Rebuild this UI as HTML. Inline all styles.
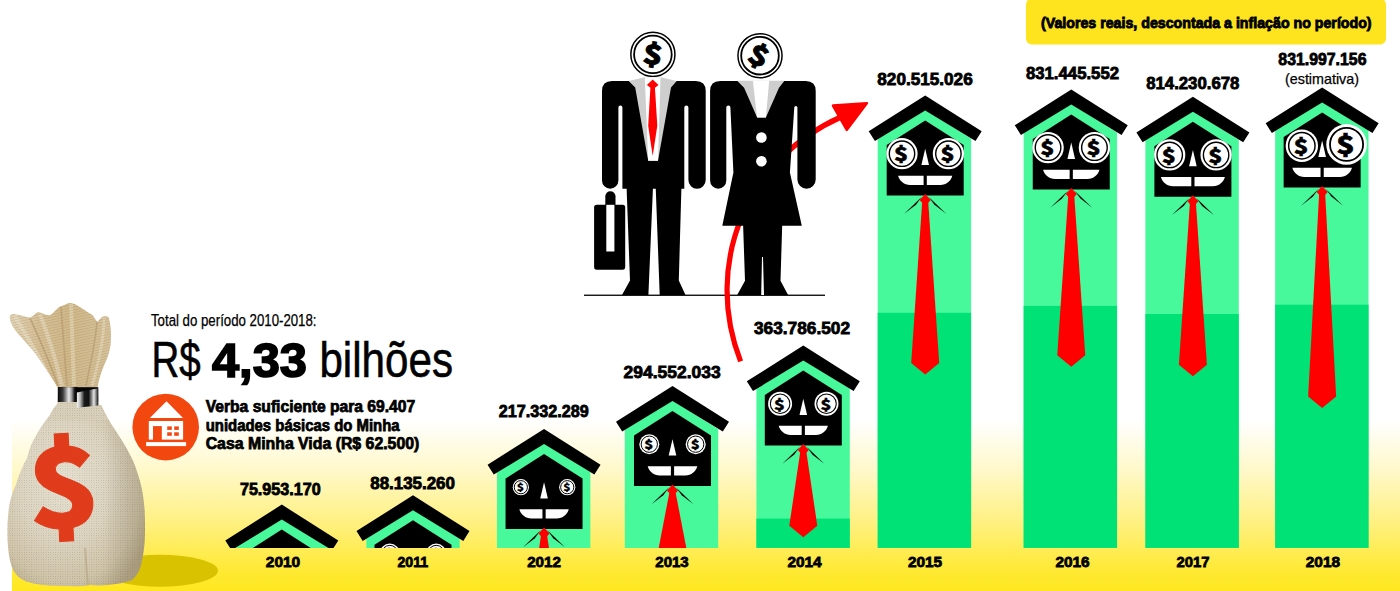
<!DOCTYPE html>
<html><head><meta charset="utf-8"><title>Minha Casa Minha Vida</title>
<style>
html,body{margin:0;padding:0;background:#fff;}
body{width:1400px;height:591px;overflow:hidden;}
svg{display:block;}
.num,.yr{font-family:"Liberation Sans",sans-serif;font-weight:bold;font-size:16.5px;fill:#000;stroke:#000;stroke-width:0.8px;}
.yr{font-size:15.2px;}
.bd{font-family:"Liberation Sans",sans-serif;font-weight:bold;}
.dl{font-family:"Noto Sans CJK JP","Liberation Sans",sans-serif;font-weight:900;fill:#000;}
.reg{font-family:"Liberation Sans",sans-serif;font-weight:normal;fill:#000;}
</style></head><body>
<svg width="1400" height="591" viewBox="0 0 1400 591">
<defs>
<linearGradient id="yel" x1="0" y1="0" x2="0" y2="1">
<stop offset="0" stop-color="#FFFFFF"/>
<stop offset="0.3" stop-color="#FFF8C8"/>
<stop offset="0.62" stop-color="#FFF07C"/>
<stop offset="0.88" stop-color="#FFE934"/>
<stop offset="1" stop-color="#FFE81F"/>
</linearGradient>
<clipPath id="cb"><rect x="0" y="0" width="1400" height="547.9"/></clipPath>

<radialGradient id="bagg" cx="0.42" cy="0.42" r="0.68">
<stop offset="0" stop-color="#EAE5D6"/>
<stop offset="0.5" stop-color="#E0D8C4"/>
<stop offset="0.82" stop-color="#D2C7AB"/>
<stop offset="1" stop-color="#BCAE8E"/>
</radialGradient>
<linearGradient id="rufg" x1="0" y1="0" x2="1" y2="0">
<stop offset="0" stop-color="#E4D8BC"/>
<stop offset="0.3" stop-color="#D9C39A"/>
<stop offset="0.6" stop-color="#D3BC8E"/>
<stop offset="1" stop-color="#D9C6A0"/>
</linearGradient>
<linearGradient id="band" x1="0" y1="0" x2="1" y2="0">
<stop offset="0" stop-color="#111"/>
<stop offset="0.25" stop-color="#444"/>
<stop offset="0.5" stop-color="#F2F2F2"/>
<stop offset="0.75" stop-color="#555"/>
<stop offset="1" stop-color="#0A0A0A"/>
</linearGradient>
<linearGradient id="band1" x1="0" y1="0" x2="1" y2="0">
<stop offset="0" stop-color="#0A0A0A"/>
<stop offset="0.25" stop-color="#3A3A3A"/>
<stop offset="0.55" stop-color="#E8E8E8"/>
<stop offset="0.7" stop-color="#9A9A9A"/>
<stop offset="0.85" stop-color="#111"/>
<stop offset="1" stop-color="#000"/>
</linearGradient>
<linearGradient id="band2" x1="0" y1="0" x2="1" y2="0">
<stop offset="0" stop-color="#F4F4F4"/>
<stop offset="0.15" stop-color="#BDBDBD"/>
<stop offset="0.35" stop-color="#1A1A1A"/>
<stop offset="0.55" stop-color="#111"/>
<stop offset="0.8" stop-color="#E6E6E6"/>
<stop offset="1" stop-color="#1A1A1A"/>
</linearGradient>
<pattern id="knit" width="2.4" height="2.4" patternUnits="userSpaceOnUse">
<rect x="0" y="0" width="0.9" height="0.9" fill="#4E4A48" opacity="0.28"/>
<rect x="1.2" y="1.2" width="0.9" height="0.9" fill="#9A7A4C" opacity="0.18"/>
</pattern>
<pattern id="wav" width="4" height="2.6" patternUnits="userSpaceOnUse" patternTransform="rotate(-12)">
<path d="M0,1.3 Q1,0.3 2,1.3 T4,1.3" fill="none" stroke="#8E6E3E" stroke-width="0.7" opacity="0.45"/>
</pattern>
<linearGradient id="bshade" x1="0" y1="0" x2="1" y2="0">
<stop offset="0" stop-color="#000" stop-opacity="0"/>
<stop offset="0.7" stop-color="#000" stop-opacity="0"/>
<stop offset="1" stop-color="#5A4A2A" stop-opacity="0.18"/>
</linearGradient>

</defs>
<rect width="1400" height="591" fill="#fff"/>
<rect x="12" y="420" width="1388" height="171" fill="url(#yel)"/>

<rect x="584" y="294.6" width="241" height="1.3" fill="#000"/>
<path d="M740.6,361.4 C702.9,264.5 746.3,159.0 841,117" fill="none" stroke="#F00" stroke-width="5.2"/>
<polygon points="833,105.6 866.8,103.2 846.8,129.8" fill="#F00" stroke="#F00" stroke-width="2.6" stroke-linejoin="round"/>
<circle cx="652.9" cy="54.4" r="22.8" fill="#fff"/>
<circle cx="652.9" cy="54.4" r="22.05" fill="none" stroke="#000" stroke-width="1.5"/>
<circle cx="652.9" cy="54.4" r="18.8" fill="none" stroke="#000" stroke-width="1.8"/>
<text x="0" y="9.80" class="dl" font-size="26.5" text-anchor="middle" stroke="#000" stroke-width="0.9" transform="translate(652.9,54.4) rotate(8) scale(1.2,1)">$</text>
<path d="M602,91 Q602,81 612,81 L695.7,81 Q705.7,81 705.7,91 L705.7,180.1 A8.65,8.65 0 0 1 688.4,180.1 L688.4,107.5 A2.05,2.05 0 0 0 684.3,107.5 L684.3,188.8 L622.4,188.8 L622.4,107.5 A2,2 0 0 0 618.4,107.5 L618.4,180.5 A8.2,8.2 0 0 1 602,180.5 Z" fill="#000"/>
<polygon points="624,187 653,187 648.4,295 622,295 630,280.5 626.6,188" fill="#000"/>
<polygon points="655.7,187 683,187 681.4,188 678.8,280.5 685.5,295 659.7,295" fill="#000"/>
<polygon points="628.7,81.1 644.6,77.3 660.8,77.3 676.7,81.1 671,87.6 658,160.7 648.2,160.7 635.2,87.6" fill="#CECECE"/>
<polygon points="644.8,77.3 660.5,77.3 658,160.7 648.2,160.7" fill="#fff"/>
<polygon points="650.4,87.5 654.9,87.5 657.3,125.7 652.7,156.1 648.2,125.7" fill="#F00"/>
<polygon points="652.7,79.6 658.5,84.9 652.7,89.6 646.9,84.9" fill="#F00"/>
<rect x="605.3" y="191.2" width="10.2" height="20" rx="5.1" fill="#000"/>
<rect x="594.1" y="204.8" width="31.1" height="64.9" rx="2.6" fill="#000"/>
<rect x="606.3" y="204.8" width="8.1" height="46.7" fill="#fff"/>
<circle cx="760.0" cy="55.7" r="22.8" fill="#fff"/>
<circle cx="760.0" cy="55.7" r="22.05" fill="none" stroke="#000" stroke-width="1.5"/>
<circle cx="760.0" cy="55.7" r="18.8" fill="none" stroke="#000" stroke-width="1.8"/>
<text x="0" y="9.80" class="dl" font-size="26.5" text-anchor="middle" stroke="#000" stroke-width="0.9" transform="translate(758.8,55.7) rotate(25) scale(1.2,1)">$</text>
<path d="M710.1,91 Q710.1,81 720.1,81 L805.7,81 Q815.7,81 815.7,91 L815.7,179.6 A9.15,9.15 0 0 1 797.4,179.6 L797.4,107.5 A1.55,1.55 0 0 0 794.3,107.5 L789.9,172.5 L801.8,225.8 L722.3,225.8 L733.4,172.5 L730.4,107.5 A2.05,2.05 0 0 0 726.3,107.5 L726.3,180.6 A8.1,8.1 0 0 1 710.1,180.6 Z" fill="#000"/>
<polygon points="743.1,225 782.2,225 780.5,280.7 788.1,295 737.2,295 745,280.7" fill="#000"/>
<polygon points="762,257 763,257 764,295 761.2,295" fill="#fff"/>
<polygon points="737.1,80.7 784.5,80.7 779,87.7 765.9,117.4 757.1,117.4 744.1,87.7" fill="#CECECE"/>
<polygon points="752.9,80.7 769.2,80.7 765.9,117.4 757.1,117.4" fill="#fff"/>
<circle cx="761.4" cy="137.5" r="5.3" fill="#fff"/><circle cx="761.4" cy="161.3" r="5.3" fill="#fff"/>
<g clip-path="url(#cb)">
<g transform="translate(281.8,504.6)">
<polygon points="0,14 -46.7,43 -46.7,43.299999999999955 46.7,43.299999999999955 46.7,43" fill="#47F99B"/>
<polygon points="0,25 -38.5,49.5 -38.5,100 38.5,100 38.5,49.5" fill="#000"/>
<polygon points="0,53.2 -3.8,69.6 3.8,69.6" fill="#fff"/>
<path d="M-24.7,80.3 L24.7,80.3 C23.2,85.5 18.7,89.5 12.7,89.5 L-12.7,89.5 C-18.7,89.5 -23.2,85.5 -24.7,80.3 Z" fill="#fff"/>
<rect x="-1.6" y="79" width="3.2" height="12" fill="#000"/>
<circle cx="-23.2" cy="58.2" r="10.00" fill="#fff"/>
<circle cx="-23.2" cy="58.2" r="8.15" fill="none" stroke="#000" stroke-width="1.00"/>
<text x="0" y="4.44" font-size="12.0" class="dl" text-anchor="middle" stroke="#000" stroke-width="0.30" transform="translate(-23.70,58.70) scale(1.25,1)">$</text>
<circle cx="23.2" cy="58.2" r="10.00" fill="#fff"/>
<circle cx="23.2" cy="58.2" r="8.15" fill="none" stroke="#000" stroke-width="1.00"/>
<text x="0" y="4.44" font-size="12.0" class="dl" text-anchor="middle" stroke="#000" stroke-width="0.30" transform="translate(22.70,58.70) scale(1.25,1)">$</text>
<polygon points="-3.6,101.5 -21,118.3 -9.2,109.2" fill="#000"/>
<polygon points="3.6,101.5 21,118.3 9.2,109.2" fill="#000"/>
<polygon points="-3,106 3,106 14,170 0,181.5 -14,170" fill="#FF0000"/>
<polygon points="0,98.6 -5.6,104.5 0,110.5 5.6,104.5" fill="#FF0000"/>
<polygon points="0,0 -56.5,35.8 -50.3,45.6 0,15 50.3,45.6 56.5,35.8" fill="#000"/>
</g>
<g transform="translate(413.0,495.3)">
<polygon points="0,14 -46.7,43 -46.7,52.599999999999966 46.7,52.599999999999966 46.7,43" fill="#47F99B"/>
<polygon points="0,25 -38.5,49.5 -38.5,100 38.5,100 38.5,49.5" fill="#000"/>
<polygon points="0,53.2 -3.8,69.6 3.8,69.6" fill="#fff"/>
<path d="M-24.7,80.3 L24.7,80.3 C23.2,85.5 18.7,89.5 12.7,89.5 L-12.7,89.5 C-18.7,89.5 -23.2,85.5 -24.7,80.3 Z" fill="#fff"/>
<rect x="-1.6" y="79" width="3.2" height="12" fill="#000"/>
<circle cx="-23.2" cy="58.2" r="10.00" fill="#fff"/>
<circle cx="-23.2" cy="58.2" r="8.15" fill="none" stroke="#000" stroke-width="1.00"/>
<text x="0" y="4.44" font-size="12.0" class="dl" text-anchor="middle" stroke="#000" stroke-width="0.30" transform="translate(-23.70,58.70) scale(1.25,1)">$</text>
<circle cx="23.2" cy="58.2" r="10.00" fill="#fff"/>
<circle cx="23.2" cy="58.2" r="8.15" fill="none" stroke="#000" stroke-width="1.00"/>
<text x="0" y="4.44" font-size="12.0" class="dl" text-anchor="middle" stroke="#000" stroke-width="0.30" transform="translate(22.70,58.70) scale(1.25,1)">$</text>
<polygon points="-3.6,101.5 -21,118.3 -9.2,109.2" fill="#000"/>
<polygon points="3.6,101.5 21,118.3 9.2,109.2" fill="#000"/>
<polygon points="-3,106 3,106 14,170 0,181.5 -14,170" fill="#FF0000"/>
<polygon points="0,98.6 -5.6,104.5 0,110.5 5.6,104.5" fill="#FF0000"/>
<polygon points="0,0 -56.5,35.8 -50.3,45.6 0,15 50.3,45.6 56.5,35.8" fill="#000"/>
</g>
<g transform="translate(544.05,429.0)">
<polygon points="-0.4,14 -47.1,43 -47.1,118.89999999999998 46.300000000000004,118.89999999999998 46.300000000000004,43" fill="#47F99B"/>
<polygon points="0,25 -38.5,49.5 -38.5,100 38.5,100 38.5,49.5" fill="#000"/>
<polygon points="0,53.2 -3.8,69.6 3.8,69.6" fill="#fff"/>
<path d="M-24.7,80.3 L24.7,80.3 C23.2,85.5 18.7,89.5 12.7,89.5 L-12.7,89.5 C-18.7,89.5 -23.2,85.5 -24.7,80.3 Z" fill="#fff"/>
<rect x="-1.6" y="79" width="3.2" height="12" fill="#000"/>
<circle cx="-23.2" cy="58.2" r="8.10" fill="#fff"/>
<circle cx="-23.2" cy="58.2" r="6.60" fill="none" stroke="#000" stroke-width="1.00"/>
<text x="0" y="3.60" font-size="9.7" class="dl" text-anchor="middle" stroke="#000" stroke-width="0.24" transform="translate(-23.61,58.61) scale(1.25,1)">$</text>
<circle cx="23.2" cy="58.2" r="8.10" fill="#fff"/>
<circle cx="23.2" cy="58.2" r="6.60" fill="none" stroke="#000" stroke-width="1.00"/>
<text x="0" y="3.60" font-size="9.7" class="dl" text-anchor="middle" stroke="#000" stroke-width="0.24" transform="translate(22.79,58.61) scale(1.25,1)">$</text>
<polygon points="-3.6,101.5 -21,118.3 -9.2,109.2" fill="#000"/>
<polygon points="3.6,101.5 21,118.3 9.2,109.2" fill="#000"/>
<polygon points="-3,106 3,106 14,181 0,192.5 -14,181" fill="#FF0000"/>
<polygon points="0,98.6 -5.6,104.5 0,110.5 5.6,104.5" fill="#FF0000"/>
<polygon points="0,0 -56.5,35.8 -50.3,45.6 0,15 50.3,45.6 56.5,35.8" fill="#000"/>
</g>
<g transform="translate(672.5,386.0)">
<polygon points="-1.0,14 -47.7,43 -47.7,161.89999999999998 45.7,161.89999999999998 45.7,43" fill="#47F99B"/>
<polygon points="0,25 -38.5,49.5 -38.5,100 38.5,100 38.5,49.5" fill="#000"/>
<polygon points="0,53.2 -3.8,69.6 3.8,69.6" fill="#fff"/>
<path d="M-24.8,80.3 L24.8,80.3 C23.3,85.5 18.8,89.5 12.8,89.5 L-12.8,89.5 C-18.8,89.5 -23.3,85.5 -24.8,80.3 Z" fill="#fff"/>
<rect x="-1.6" y="79" width="3.2" height="12" fill="#000"/>
<circle cx="-23.2" cy="58.2" r="10.00" fill="#fff"/>
<circle cx="-23.2" cy="58.2" r="8.15" fill="none" stroke="#000" stroke-width="1.00"/>
<text x="0" y="4.44" font-size="12.0" class="dl" text-anchor="middle" stroke="#000" stroke-width="0.30" transform="translate(-23.70,58.70) scale(1.25,1)">$</text>
<circle cx="23.2" cy="58.2" r="10.00" fill="#fff"/>
<circle cx="23.2" cy="58.2" r="8.15" fill="none" stroke="#000" stroke-width="1.00"/>
<text x="0" y="4.44" font-size="12.0" class="dl" text-anchor="middle" stroke="#000" stroke-width="0.30" transform="translate(22.70,58.70) scale(1.25,1)">$</text>
<polygon points="-3.6,101.5 -21,118.3 -9.2,109.2" fill="#000"/>
<polygon points="3.6,101.5 21,118.3 9.2,109.2" fill="#000"/>
<polygon points="-3,106 3,106 14,163 0,174.5 -14,163" fill="#FF0000"/>
<polygon points="0,98.6 -5.6,104.5 0,110.5 5.6,104.5" fill="#FF0000"/>
<polygon points="0,0 -56.5,35.8 -50.3,45.6 0,15 50.3,45.6 56.5,35.8" fill="#000"/>
</g>
<g transform="translate(803.3000000000001,345.5)">
<polygon points="-0.2,14 -46.900000000000006,43 -46.900000000000006,202.39999999999998 46.5,202.39999999999998 46.5,43" fill="#47F99B"/>
<rect x="-46.900000000000006" y="173.1" width="93.4" height="29.3" fill="#00E176"/>
<polygon points="0,25 -38.5,49.5 -38.5,100 38.5,100 38.5,49.5" fill="#000"/>
<polygon points="0,53.2 -3.8,69.6 3.8,69.6" fill="#fff"/>
<path d="M-24.6,80.3 L24.6,80.3 C23.1,85.5 18.6,89.5 12.600000000000001,89.5 L-12.600000000000001,89.5 C-18.6,89.5 -23.1,85.5 -24.6,80.3 Z" fill="#fff"/>
<rect x="-1.6" y="79" width="3.2" height="12" fill="#000"/>
<circle cx="-23.2" cy="58.2" r="12.00" fill="#fff"/>
<circle cx="-23.2" cy="58.2" r="9.78" fill="none" stroke="#000" stroke-width="1.08"/>
<text x="0" y="5.33" font-size="14.4" class="dl" text-anchor="middle" stroke="#000" stroke-width="0.36" transform="translate(-23.80,58.80) scale(1.25,1)">$</text>
<circle cx="23.2" cy="58.2" r="12.00" fill="#fff"/>
<circle cx="23.2" cy="58.2" r="9.78" fill="none" stroke="#000" stroke-width="1.08"/>
<text x="0" y="5.33" font-size="14.4" class="dl" text-anchor="middle" stroke="#000" stroke-width="0.36" transform="translate(22.60,58.80) scale(1.25,1)">$</text>
<polygon points="-3.6,101.5 -21,118.3 -9.2,109.2" fill="#000"/>
<polygon points="3.6,101.5 21,118.3 9.2,109.2" fill="#000"/>
<polygon points="-3,106 3,106 14,180.3 0,191.8 -14,180.3" fill="#FF0000"/>
<polygon points="0,98.6 -5.6,104.5 0,110.5 5.6,104.5" fill="#FF0000"/>
<polygon points="0,0 -56.5,35.8 -50.3,45.6 0,15 50.3,45.6 56.5,35.8" fill="#000"/>
</g>
<g transform="translate(925.1999999999999,95.5)">
<polygon points="-0.8,14 -47.5,43 -47.5,452.4 45.900000000000006,452.4 45.900000000000006,43" fill="#47F99B"/>
<rect x="-47.5" y="217.3" width="93.4" height="235.1" fill="#00E176"/>
<polygon points="0,25 -38.5,49.5 -38.5,100 38.5,100 38.5,49.5" fill="#000"/>
<polygon points="0,53.2 -3.8,69.6 3.8,69.6" fill="#fff"/>
<path d="M-27.1,80.3 L27.1,80.3 C25.6,85.5 21.1,89.5 15.100000000000001,89.5 L-15.100000000000001,89.5 C-21.1,89.5 -25.6,85.5 -27.1,80.3 Z" fill="#fff"/>
<rect x="-1.6" y="79" width="3.2" height="12" fill="#000"/>
<circle cx="-23.2" cy="58.2" r="15.60" fill="#fff"/>
<circle cx="-23.2" cy="58.2" r="12.71" fill="none" stroke="#000" stroke-width="1.40"/>
<text x="0" y="6.93" font-size="18.7" class="dl" text-anchor="middle" stroke="#000" stroke-width="0.47" transform="translate(-23.98,58.98) scale(1.25,1)">$</text>
<circle cx="23.2" cy="58.2" r="15.60" fill="#fff"/>
<circle cx="23.2" cy="58.2" r="12.71" fill="none" stroke="#000" stroke-width="1.40"/>
<text x="0" y="6.93" font-size="18.7" class="dl" text-anchor="middle" stroke="#000" stroke-width="0.47" transform="translate(22.42,58.98) scale(1.25,1)">$</text>
<polygon points="-3.6,101.5 -21,118.3 -9.2,109.2" fill="#000"/>
<polygon points="3.6,101.5 21,118.3 9.2,109.2" fill="#000"/>
<polygon points="-3,106 3,106 14,267.5 0,279.0 -14,267.5" fill="#FF0000"/>
<polygon points="0,98.6 -5.6,104.5 0,110.5 5.6,104.5" fill="#FF0000"/>
<polygon points="0,0 -56.5,35.8 -50.3,45.6 0,15 50.3,45.6 56.5,35.8" fill="#000"/>
</g>
<g transform="translate(1071.25,89.4)">
<polygon points="-0.9,14 -47.6,43 -47.6,458.5 45.800000000000004,458.5 45.800000000000004,43" fill="#47F99B"/>
<rect x="-47.6" y="216.5" width="93.4" height="242.0" fill="#00E176"/>
<polygon points="0,25 -38.5,49.5 -38.5,100 38.5,100 38.5,49.5" fill="#000"/>
<polygon points="0,53.2 -3.8,69.6 3.8,69.6" fill="#fff"/>
<path d="M-28.2,80.3 L28.2,80.3 C26.7,85.5 22.2,89.5 16.2,89.5 L-16.2,89.5 C-22.2,89.5 -26.7,85.5 -28.2,80.3 Z" fill="#fff"/>
<rect x="-1.6" y="79" width="3.2" height="12" fill="#000"/>
<circle cx="-23.2" cy="58.2" r="15.70" fill="#fff"/>
<circle cx="-23.2" cy="58.2" r="12.80" fill="none" stroke="#000" stroke-width="1.41"/>
<text x="0" y="6.97" font-size="18.8" class="dl" text-anchor="middle" stroke="#000" stroke-width="0.47" transform="translate(-23.98,58.98) scale(1.25,1)">$</text>
<circle cx="23.2" cy="58.2" r="15.70" fill="#fff"/>
<circle cx="23.2" cy="58.2" r="12.80" fill="none" stroke="#000" stroke-width="1.41"/>
<text x="0" y="6.97" font-size="18.8" class="dl" text-anchor="middle" stroke="#000" stroke-width="0.47" transform="translate(22.41,58.98) scale(1.25,1)">$</text>
<polygon points="-3.6,101.5 -21,118.3 -9.2,109.2" fill="#000"/>
<polygon points="3.6,101.5 21,118.3 9.2,109.2" fill="#000"/>
<polygon points="-3,106 3,106 14,265.8 0,277.3 -14,265.8" fill="#FF0000"/>
<polygon points="0,98.6 -5.6,104.5 0,110.5 5.6,104.5" fill="#FF0000"/>
<polygon points="0,0 -56.5,35.8 -50.3,45.6 0,15 50.3,45.6 56.5,35.8" fill="#000"/>
</g>
<g transform="translate(1192.8999999999999,96.7)">
<polygon points="-0.8,14 -47.5,43 -47.5,451.2 45.900000000000006,451.2 45.900000000000006,43" fill="#47F99B"/>
<rect x="-47.5" y="217.3" width="93.4" height="233.9" fill="#00E176"/>
<polygon points="0,25 -38.5,49.5 -38.5,100 38.5,100 38.5,49.5" fill="#000"/>
<polygon points="0,53.2 -3.8,69.6 3.8,69.6" fill="#fff"/>
<path d="M-32,80.3 L32,80.3 C30.5,85.5 26,89.5 20,89.5 L-20,89.5 C-26,89.5 -30.5,85.5 -32,80.3 Z" fill="#fff"/>
<rect x="-1.6" y="79" width="3.2" height="12" fill="#000"/>
<circle cx="-23.2" cy="58.2" r="15.60" fill="#fff"/>
<circle cx="-23.2" cy="58.2" r="12.71" fill="none" stroke="#000" stroke-width="1.40"/>
<text x="0" y="6.93" font-size="18.7" class="dl" text-anchor="middle" stroke="#000" stroke-width="0.47" transform="translate(-23.98,58.98) scale(1.25,1)">$</text>
<circle cx="23.2" cy="58.2" r="15.60" fill="#fff"/>
<circle cx="23.2" cy="58.2" r="12.71" fill="none" stroke="#000" stroke-width="1.40"/>
<text x="0" y="6.93" font-size="18.7" class="dl" text-anchor="middle" stroke="#000" stroke-width="0.47" transform="translate(22.42,58.98) scale(1.25,1)">$</text>
<polygon points="-3.6,101.5 -21,118.3 -9.2,109.2" fill="#000"/>
<polygon points="3.6,101.5 21,118.3 9.2,109.2" fill="#000"/>
<polygon points="-3,106 3,106 14,268 0,279.5 -14,268" fill="#FF0000"/>
<polygon points="0,98.6 -5.6,104.5 0,110.5 5.6,104.5" fill="#FF0000"/>
<polygon points="0,0 -56.5,35.8 -50.3,45.6 0,15 50.3,45.6 56.5,35.8" fill="#000"/>
</g>
<g transform="translate(1322.1499999999999,87.4)">
<polygon points="-0.3,14 -47.0,43 -47.0,460.5 46.400000000000006,460.5 46.400000000000006,43" fill="#47F99B"/>
<rect x="-47.0" y="217.3" width="93.4" height="243.2" fill="#00E176"/>
<polygon points="0,25 -38.5,49.5 -38.5,100 38.5,100 38.5,49.5" fill="#000"/>
<polygon points="0,53.2 -3.8,69.6 3.8,69.6" fill="#fff"/>
<path d="M-29.8,80.3 L29.8,80.3 C28.3,85.5 23.8,89.5 17.8,89.5 L-17.8,89.5 C-23.8,89.5 -28.3,85.5 -29.8,80.3 Z" fill="#fff"/>
<rect x="-1.6" y="79" width="3.2" height="12" fill="#000"/>
<circle cx="-20.3" cy="58.3" r="16.20" fill="#fff"/>
<circle cx="-20.3" cy="58.3" r="13.20" fill="none" stroke="#000" stroke-width="1.46"/>
<text x="0" y="7.19" font-size="19.4" class="dl" text-anchor="middle" stroke="#000" stroke-width="0.49" transform="translate(-21.11,59.11) scale(1.25,1)">$</text>
<circle cx="24.4" cy="57.0" r="20.30" fill="#fff"/>
<circle cx="24.4" cy="57.0" r="16.54" fill="none" stroke="#000" stroke-width="1.83"/>
<text x="0" y="9.01" font-size="24.4" class="dl" text-anchor="middle" stroke="#000" stroke-width="0.61" transform="translate(23.38,58.02) scale(1.25,1)">$</text>
<polygon points="-3.6,101.5 -21,118.3 -9.2,109.2" fill="#000"/>
<polygon points="3.6,101.5 21,118.3 9.2,109.2" fill="#000"/>
<polygon points="-3,106 3,106 14,309 0,320.5 -14,309" fill="#FF0000"/>
<polygon points="0,98.6 -5.6,104.5 0,110.5 5.6,104.5" fill="#FF0000"/>
<polygon points="0,0 -56.5,35.8 -50.3,45.6 0,15 50.3,45.6 56.5,35.8" fill="#000"/>
</g>
</g>
<text x="280.3" y="495.1" class="num" text-anchor="middle" textLength="80.7" lengthAdjust="spacingAndGlyphs">75.953.170</text>
<text x="412.6" y="489.3" class="num" text-anchor="middle" textLength="84.7" lengthAdjust="spacingAndGlyphs">88.135.260</text>
<text x="543.8" y="416.6" class="num" text-anchor="middle" textLength="90.0" lengthAdjust="spacingAndGlyphs">217.332.289</text>
<text x="672.1" y="377.5" class="num" text-anchor="middle" textLength="97.0" lengthAdjust="spacingAndGlyphs">294.552.033</text>
<text x="802.0" y="334.2" class="num" text-anchor="middle" textLength="96.0" lengthAdjust="spacingAndGlyphs">363.786.502</text>
<text x="925.0" y="84.6" class="num" text-anchor="middle" textLength="95.4" lengthAdjust="spacingAndGlyphs">820.515.026</text>
<text x="1072.5" y="79.0" class="num" text-anchor="middle" textLength="93.1" lengthAdjust="spacingAndGlyphs">831.445.552</text>
<text x="1192.8" y="88.8" class="num" text-anchor="middle" textLength="93.3" lengthAdjust="spacingAndGlyphs">814.230.678</text>
<text x="1322.4" y="65.4" class="num" text-anchor="middle" textLength="88.1" lengthAdjust="spacingAndGlyphs">831.997.156</text>
<text x="283" y="566.6" class="yr" text-anchor="middle" textLength="34.3" lengthAdjust="spacingAndGlyphs">2010</text>
<text x="412.8" y="566.6" class="yr" text-anchor="middle" textLength="30.7" lengthAdjust="spacingAndGlyphs">2011</text>
<text x="544" y="566.6" class="yr" text-anchor="middle" textLength="33.7" lengthAdjust="spacingAndGlyphs">2012</text>
<text x="672" y="566.6" class="yr" text-anchor="middle" textLength="33.4" lengthAdjust="spacingAndGlyphs">2013</text>
<text x="804.5" y="566.6" class="yr" text-anchor="middle" textLength="34.2" lengthAdjust="spacingAndGlyphs">2014</text>
<text x="925" y="566.6" class="yr" text-anchor="middle" textLength="34.2" lengthAdjust="spacingAndGlyphs">2015</text>
<text x="1072.5" y="566.6" class="yr" text-anchor="middle" textLength="34.2" lengthAdjust="spacingAndGlyphs">2016</text>
<text x="1193" y="566.6" class="yr" text-anchor="middle" textLength="32.9" lengthAdjust="spacingAndGlyphs">2017</text>
<text x="1322.9" y="566.6" class="yr" text-anchor="middle" textLength="34.2" lengthAdjust="spacingAndGlyphs">2018</text>
<ellipse cx="160" cy="570.7" rx="58" ry="16" fill="#D9C300"/>
<path d="M56.4,405 C53,409 51,412 49.8,414.9 C45,421 40,428 36.5,434.8 C32,442 29,450 27,458 C22,467 18.5,476 16,484.6 C12,493 9.5,502 8.5,511.2 C7.5,520 7.3,530 7.6,540 C8,550 9,558 11.5,566 C14,573 18,578 26,581.5 C36,584.5 46,585.5 56,585.8 C66,586.2 76,586.5 84,586 C87,585.5 88,585 89.5,585 C95,585.8 103,585.5 112,584.5 C120,583.5 127,582 131.5,580.5 C136,577 139,572 140.5,567 C142.5,560 144.5,548 144.8,537.7 C145.2,528 145,520 144.6,511.2 C144,500 142.5,490 140,481.3 C137,471 134,462 130,454.8 C125.5,446 120.5,438 116.2,431.5 C112,425 108.5,420 106.2,414.9 C104,411 102.5,408 101.2,405 Z" fill="url(#bagg)"/>
<path d="M56.4,405 C53,409 51,412 49.8,414.9 C45,421 40,428 36.5,434.8 C32,442 29,450 27,458 C22,467 18.5,476 16,484.6 C12,493 9.5,502 8.5,511.2 C7.5,520 7.3,530 7.6,540 C8,550 9,558 11.5,566 C14,573 18,578 26,581.5 C36,584.5 46,585.5 56,585.8 C66,586.2 76,586.5 84,586 C87,585.5 88,585 89.5,585 C95,585.8 103,585.5 112,584.5 C120,583.5 127,582 131.5,580.5 C136,577 139,572 140.5,567 C142.5,560 144.5,548 144.8,537.7 C145.2,528 145,520 144.6,511.2 C144,500 142.5,490 140,481.3 C137,471 134,462 130,454.8 C125.5,446 120.5,438 116.2,431.5 C112,425 108.5,420 106.2,414.9 C104,411 102.5,408 101.2,405 Z" fill="url(#bshade)"/>
<path d="M56.4,405 C53,409 51,412 49.8,414.9 C45,421 40,428 36.5,434.8 C32,442 29,450 27,458 C22,467 18.5,476 16,484.6 C12,493 9.5,502 8.5,511.2 C7.5,520 7.3,530 7.6,540 C8,550 9,558 11.5,566 C14,573 18,578 26,581.5 C36,584.5 46,585.5 56,585.8 C66,586.2 76,586.5 84,586 C87,585.5 88,585 89.5,585 C95,585.8 103,585.5 112,584.5 C120,583.5 127,582 131.5,580.5 C136,577 139,572 140.5,567 C142.5,560 144.5,548 144.8,537.7 C145.2,528 145,520 144.6,511.2 C144,500 142.5,490 140,481.3 C137,471 134,462 130,454.8 C125.5,446 120.5,438 116.2,431.5 C112,425 108.5,420 106.2,414.9 C104,411 102.5,408 101.2,405 Z" fill="url(#knit)"/>
<path d="M88,585.5 C87,575 86,560 85,548" fill="none" stroke="#A89874" stroke-width="2" opacity="0.45"/>
<path d="M57.9,388 C50,375 38,356 30.5,347.8 C22,338 14,330 12.2,325.5 C10,321 9,317 10.2,315.3 C12,313.5 14,314 15.2,314.3 C22,315 27,318 30.5,317.3 C34,316 36,312 38.6,312.3 C42,312.5 45,315.5 48.7,315.3 C53,315 57,307 61,306.2 C65,305 68,302.5 71,303.1 C76,304 80,307.5 83.2,309.2 C86,311 89,313 91.4,314.3 C94,316 96,321.5 97.5,321.4 C99,321 101,316.5 104.6,316.3 C106,316 108,316.5 108.6,317.3 C111,325 111.5,335 110.7,343.7 C110,350 108,357 105.6,362 C102,370 99,378 97.5,388 Z" fill="url(#rufg)"/>
<clipPath id="rufclip"><path d="M57.9,388 C50,375 38,356 30.5,347.8 C22,338 14,330 12.2,325.5 C10,321 9,317 10.2,315.3 C12,313.5 14,314 15.2,314.3 C22,315 27,318 30.5,317.3 C34,316 36,312 38.6,312.3 C42,312.5 45,315.5 48.7,315.3 C53,315 57,307 61,306.2 C65,305 68,302.5 71,303.1 C76,304 80,307.5 83.2,309.2 C86,311 89,313 91.4,314.3 C94,316 96,321.5 97.5,321.4 C99,321 101,316.5 104.6,316.3 C106,316 108,316.5 108.6,317.3 C111,325 111.5,335 110.7,343.7 C110,350 108,357 105.6,362 C102,370 99,378 97.5,388 Z"/></clipPath><g clip-path="url(#rufclip)">
<path d="M15,316 C25,335 40,355 52,384" fill="none" stroke="#EDE3CB" stroke-width="4" opacity="0.7"/>
<path d="M40,314 C48,335 56,360 62,386" fill="none" stroke="#EDE3CB" stroke-width="4" opacity="0.6"/>
<path d="M71,304 C72,330 73,360 74,386" fill="none" stroke="#EDE3CB" stroke-width="4" opacity="0.55"/>
<path d="M104,318 C104,340 98,365 92,386" fill="none" stroke="#EDE3CB" stroke-width="3" opacity="0.55"/>
<path d="M30,318 C40,340 50,362 58,386" fill="none" stroke="#B09468" stroke-width="1.6" opacity="0.6"/>
<path d="M61,307 C63,335 65,360 67,386" fill="none" stroke="#B09468" stroke-width="1.6" opacity="0.5"/>
<path d="M97,322 C95,345 90,365 86,386" fill="none" stroke="#B09468" stroke-width="1.6" opacity="0.5"/>
<path d="M57.9,388 C50,375 38,356 30.5,347.8 C22,338 14,330 12.2,325.5 C10,321 9,317 10.2,315.3 C12,313.5 14,314 15.2,314.3 C22,315 27,318 30.5,317.3 C34,316 36,312 38.6,312.3 C42,312.5 45,315.5 48.7,315.3 C53,315 57,307 61,306.2 C65,305 68,302.5 71,303.1 C76,304 80,307.5 83.2,309.2 C86,311 89,313 91.4,314.3 C94,316 96,321.5 97.5,321.4 C99,321 101,316.5 104.6,316.3 C106,316 108,316.5 108.6,317.3 C111,325 111.5,335 110.7,343.7 C110,350 108,357 105.6,362 C102,370 99,378 97.5,388 Z" fill="url(#wav)"/>
</g>
<path d="M57.9,395 L98.2,395 L98.6,403 C101,409 105,415 108.5,420 L48.4,420 C51.5,414 55,408 57.5,403 Z" fill="#DCD3BE"/>
<path d="M57.9,395 L98.2,395 L98.6,403 C101,409 105,415 108.5,420 L48.4,420 C51.5,414 55,408 57.5,403 Z" fill="url(#knit)"/>
<rect x="57.9" y="387.2" width="40.3" height="14.8" fill="#050505"/>
<rect x="57.9" y="387.2" width="19.8" height="14.8" fill="url(#band1)"/>
<polygon points="76.9,392.5 98.2,388.3 98.2,405.4 76.9,407.7" fill="url(#band2)"/>
<text x="0" y="0" class="dl" font-size="110" style="fill:#E03C1C;stroke:#E03C1C;stroke-width:1" text-anchor="middle" transform="translate(66.2,527.4) rotate(-3) scale(1.08,1)">$</text>
<text x="151" y="325.6" class="reg" font-size="16" textLength="165.5" lengthAdjust="spacingAndGlyphs" stroke="#000" stroke-width="0.25">Total do período 2010-2018:</text>
<text x="151.4" y="377.2" class="reg" font-size="50" textLength="49.2" lengthAdjust="spacingAndGlyphs" stroke="#000" stroke-width="0.6">R$</text>
<text x="212" y="377.2" class="bd" font-size="48" textLength="94.9" lengthAdjust="spacingAndGlyphs" stroke="#000" stroke-width="1.7">4,33</text>
<text x="319.4" y="377.2" class="reg" font-size="50" textLength="133.6" lengthAdjust="spacingAndGlyphs" stroke="#000" stroke-width="0.6">bilhões</text>
<circle cx="165.7" cy="427.1" r="33.3" fill="#F2480F"/>
<polygon points="166.5,401.2 183,418 149.8,418" fill="#fff"/>
<rect x="148.8" y="421" width="34.3" height="18.6" fill="#fff"/>
<rect x="153" y="426.1" width="8.8" height="14" fill="#F2480F"/>
<rect x="167.2" y="426.4" width="4.6" height="3.5" fill="#F2480F"/><rect x="174.2" y="426.4" width="4.6" height="3.5" fill="#F2480F"/>
<rect x="167.2" y="432.3" width="4.6" height="3.5" fill="#F2480F"/><rect x="174.2" y="432.3" width="4.6" height="3.5" fill="#F2480F"/>
<rect x="146.1" y="442.1" width="40" height="4" fill="#fff"/>
<text x="205.7" y="412.2" class="bd" font-size="16" textLength="209.5" lengthAdjust="spacingAndGlyphs" stroke="#000" stroke-width="0.75">Verba suficiente para 69.407</text>
<text x="205.7" y="430.8" class="bd" font-size="16" textLength="193.9" lengthAdjust="spacingAndGlyphs" stroke="#000" stroke-width="0.75">unidades básicas do Minha</text>
<text x="205.7" y="449.2" class="bd" font-size="16" textLength="213.6" lengthAdjust="spacingAndGlyphs" stroke="#000" stroke-width="0.75">Casa Minha Vida (R$ 62.500)</text>
<rect x="1026" y="-1.5" width="360" height="45.9" rx="6" fill="#FDE41F"/>
<text x="1041" y="28.4" class="bd" font-size="15" textLength="330.6" lengthAdjust="spacingAndGlyphs" stroke="#000" stroke-width="0.9">(Valores reais, descontada a inflação no período)</text>
<text x="1322" y="83.8" class="reg" font-size="14.5" text-anchor="middle" textLength="74" lengthAdjust="spacingAndGlyphs" stroke="#000" stroke-width="0.25">(estimativa)</text>
</svg>
</body></html>
